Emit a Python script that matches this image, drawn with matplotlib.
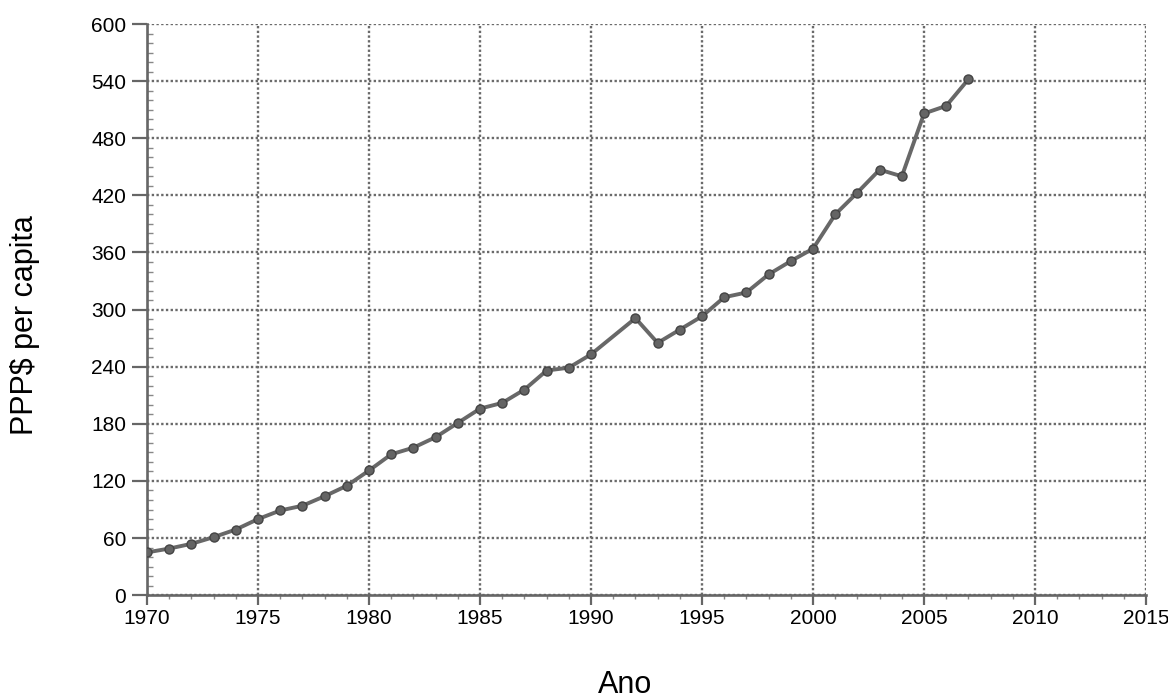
import matplotlib.pyplot as plt
from matplotlib.ticker import MultipleLocator

plt.rcParams['font.family'] = ['Liberation Sans', 'DejaVu Sans']

# dados (sem 1991)
anos = [1970, 1971, 1972, 1973, 1974, 1975, 1976, 1977, 1978, 1979,
        1980, 1981, 1982, 1983, 1984, 1985, 1986, 1987, 1988, 1989,
        1990, 1992, 1993, 1994, 1995, 1996, 1997, 1998, 1999, 2000,
        2001, 2002, 2003, 2004, 2005, 2006, 2007]
ppp = [45, 49, 54, 61, 69, 80, 89, 94, 104, 115,
       131, 148, 155, 166, 181, 196, 202, 216, 236, 239,
       253, 291, 265, 279, 293, 313, 318, 337, 351, 364,
       400, 423, 447, 440, 506, 514, 542]

x_ticks = [1970, 1975, 1980, 1985, 1990, 1995, 2000, 2005, 2010, 2015]
y_ticks = [0, 60, 120, 180, 240, 300, 360, 420, 480, 540, 600]

fig = plt.figure(figsize=(11.68, 7.0), dpi=100)
ax = fig.add_axes([0.1259, 0.1497, 0.8553, 0.816])

ax.plot(anos, ppp, color='#686868', lw=2.8, marker='o', markersize=6.5,
        markerfacecolor='#646464', markeredgecolor='#444444', zorder=3)

ax.set_xlim(1970, 2015)
ax.set_ylim(0, 600)
ax.set_xticks(x_ticks)
ax.set_yticks(y_ticks)
ax.xaxis.set_minor_locator(MultipleLocator(1))
ax.yaxis.set_minor_locator(MultipleLocator(10))

ax.grid(True, which='major', color='#6a6a6a', linestyle=(0, (1, 1)), linewidth=1.7)
ax.set_axisbelow(True)

for s in ['top', 'right']:
    ax.spines[s].set_visible(False)
for s in ['left', 'bottom']:
    ax.spines[s].set_color('#666666')
    ax.spines[s].set_linewidth(1.9)

ax.tick_params(axis='x', which='major', direction='out', length=7, width=1.6,
               color='#666666', labelsize=15, pad=3)
ax.tick_params(axis='x', which='minor', direction='out', length=3, width=1,
               color='#888888')
ax.tick_params(axis='y', which='major', direction='out', length=11, width=1.6,
               color='#666666', labelsize=15, pad=4)
ax.tick_params(axis='y', which='minor', direction='in', length=4, width=1,
               color='#888888')

fig.text(625 / 1168, 1 - 685 / 700, 'Ano', fontsize=22, ha='center', va='center')
fig.text(25 / 1168, 1 - 325 / 700, 'PPP$ per capita', fontsize=22,
         rotation=90, ha='center', va='center')

fig.savefig('out.png', dpi=100)
